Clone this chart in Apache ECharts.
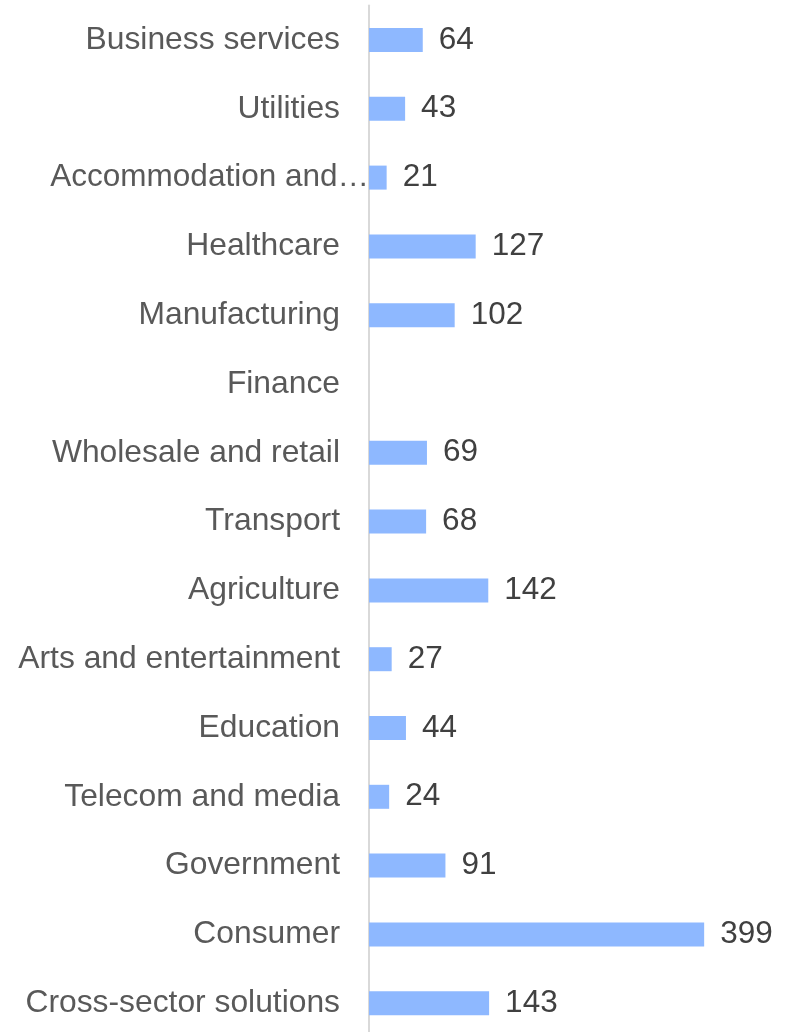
<!DOCTYPE html>
<html>
<head>
<meta charset="utf-8">
<script src="https://cdn.jsdelivr.net/npm/echarts@6/dist/echarts.min.js"></script>
<style>
  html, body { margin: 0; padding: 0; background: #ffffff; overflow: hidden; }
  #chart { width: 787px; height: 1045px; }
</style>
</head>
<body>
<div id="chart"></div>
<script>
// Sectors, listed top to bottom
const sectors = [
  'Business services',
  'Utilities',
  'Accommodation and…',
  'Healthcare',
  'Manufacturing',
  'Finance',
  'Wholesale and retail',
  'Transport',
  'Agriculture',
  'Arts and entertainment',
  'Education',
  'Telecom and media',
  'Government',
  'Consumer',
  'Cross-sector solutions'
];

// Count per sector (Finance has no value)
const counts = [64, 43, 21, 127, 102, null, 69, 68, 142, 27, 44, 24, 91, 399, 143];

// Label that runs up to the axis line instead of stopping short of it
const wideLabel = 'Accommodation and…';

const chart = echarts.init(document.getElementById('chart'), null, { renderer: 'canvas' });

const font = 'Liberation Sans, Arial, Helvetica, sans-serif';

chart.setOption({
  animation: false,
  backgroundColor: '#ffffff',
  grid: {
    left: 369,
    top: 5.6,
    width: 378,
    height: 1032,
    containLabel: false
  },
  xAxis: {
    type: 'value',
    min: 0,
    max: 450,
    show: false
  },
  yAxis: {
    type: 'category',
    data: sectors,
    inverse: true,
    axisLine: { show: true, lineStyle: { color: '#d9d9d9', width: 2 } },
    axisTick: { show: false },
    splitLine: { show: false },
    axisLabel: {
      margin: 0,
      fontFamily: font,
      fontSize: 31.8,
      color: '#595959',
      formatter: function (v) {
        return v === wideLabel ? '{w|' + v + '}' : '{n|' + v + '}';
      },
      rich: {
        n: { fontFamily: font, fontSize: 31.8, color: '#595959', padding: [0, 29, 0, 0] },
        w: { fontFamily: font, fontSize: 31.5, color: '#595959', padding: [0, 0, 0, 0] }
      }
    }
  },
  series: [{
    type: 'bar',
    data: counts,
    barWidth: 24,
    itemStyle: { color: '#8eb8ff' },
    label: {
      show: true,
      position: 'right',
      distance: 16,
      fontFamily: font,
      fontSize: 31.5,
      color: '#404040'
    }
  }]
});
</script>
</body>
</html>
